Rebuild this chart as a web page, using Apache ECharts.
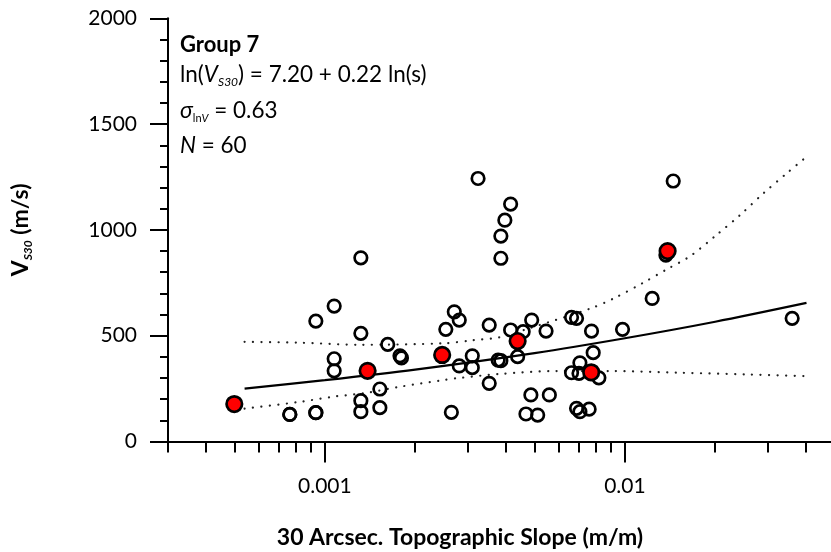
<!DOCTYPE html>
<html>
<head>
<meta charset="utf-8">
<script src="https://cdn.jsdelivr.net/npm/echarts@6/dist/echarts.min.js"></script>
<style>
html,body{margin:0;padding:0;background:#fff;}
#chart{width:831px;height:552px;}
</style>
</head>
<body>
<div id="chart"></div>
<script>
// ---- data ----
const slopeOpen = [0.000764,0.000764,0.000933,0.000933,0.000933,0.001074,0.001074,0.001074,0.001318,0.001318,
  0.001318,0.001318,0.001525,0.001525,0.00162,0.00178,0.0018,0.00253,0.0027,0.002805,
  0.002805,0.00264,0.0031,0.0031,0.00353,0.00353,0.00324,0.00378,0.00386,0.00386,
  0.00386,0.00398,0.00416,0.00416,0.00458,0.00439,0.00489,0.00546,0.00486,0.0056,
  0.00468,0.00512,0.00664,0.0069,0.00664,0.00703,0.00708,0.0069,0.00708,0.0076,
  0.00774,0.00784,0.00819,0.00982,0.01233,0.0137,0.01449,0.0361];
const vs30Open = [128,128,136,136,569,640,391,334,868,511,
  193,141,248,160,459,405,395,530,613,574,
  357,138,405,349,275,550,1243,385,382,866,
  971,1046,1122,527,519,401,574,522,220,220,
  130,125,587,582,325,322,372,157,141,153,
  522,420,301,530,676,881,1231,582];
const slopeRed = [0.000499,0.001388,0.00246,0.00439,0.00772,0.01388];
const vs30Red = [177,334,409,475,327,900];
const fitSlope = [0.00054,0.001,0.002,0.005,0.01,0.02,0.0403];
const fitV = [250,290,340,418,488,566,655];
const upSlope = [0.00054,0.00083,0.0013,0.0025,0.0031,0.0038,0.0048,0.0077,0.0092,0.0115,0.0138,0.0165,0.0202,0.0242,0.0289,0.0346,0.0401];
const upV = [471,467,457,464,478,492,535,629,677,750,814,876,976,1070,1172,1267,1343];
const loSlope = [0.00054,0.00083,0.00107,0.00135,0.00178,0.00248,0.00275,0.00383,0.0059,0.0089,0.0153,0.0254,0.0403];
const loV = [155,188,212,228,259,290,299,319,333,333,325,317,309];
const xMajorTicks = [0.001,0.01];
const xMinorTicks = [0.0003,0.0004,0.0005,0.0006,0.0007,0.0008,0.0009,0.002,0.003,0.004,0.005,0.006,0.007,0.008,0.009,0.02,0.03,0.04,0.05];

const zip = (a,b) => a.map((v,i)=>[v,b[i]]);
const FONT = 'Lato';
const chart = echarts.init(document.getElementById('chart'), null, {renderer:'canvas'});
const axisLineStyle = {color:'#000', width:2};
chart.setOption({
  animation:false,
  backgroundColor:'#fff',
  grid:{left:168, top:18.3, width:666.6, height:423.2, containLabel:false, outerBoundsMode:'none'},
  xAxis:[{
    type:'log', logBase:10, min:0.0003, max:0.05,
    axisLine:{show:true, lineStyle:axisLineStyle},
    axisTick:{show:true, length:21, lineStyle:axisLineStyle, customValues:xMajorTicks},
    axisLabel:{show:true, margin:34, color:'#000', fontFamily:FONT, fontSize:21,
      showMinLabel:false, showMaxLabel:false, formatter:v=>String(v)},
    splitLine:{show:false}
  },{
    type:'log', logBase:10, min:0.0003, max:0.05, gridIndex:0, position:'bottom',
    axisLine:{show:false},
    axisTick:{show:true, length:11, lineStyle:axisLineStyle, customValues:xMinorTicks},
    axisLabel:{show:false},
    splitLine:{show:false}
  }],
  yAxis:{
    type:'value', min:0, max:2000, interval:500,
    axisLine:{show:true, lineStyle:axisLineStyle},
    axisTick:{show:true, length:18, lineStyle:axisLineStyle},
    minorTick:{show:true, splitNumber:5, length:8, lineStyle:axisLineStyle},
    axisLabel:{margin:31, color:'#000', fontFamily:FONT, fontSize:21, formatter:v=>String(v)},
    splitLine:{show:false}, minorSplitLine:{show:false},
    name:'{v|V}{s|S30}{v| (m/s)}', nameLocation:'middle', nameGap:134,
    nameTextStyle:{rich:{
      v:{fontFamily:FONT, fontWeight:'bold', fontSize:23, color:'#000', lineHeight:27, verticalAlign:'middle'},
      s:{fontFamily:FONT, fontWeight:'bold', fontStyle:'italic', fontSize:12, color:'#000', lineHeight:12, verticalAlign:'bottom'}
    }}
  },
  graphic:[
    {type:'text', left:180, top:34, style:{text:'Group 7', font:'bold 22px Lato', fill:'#000'}},
    {type:'text', left:180, top:63, style:{
      text:'{n|ln(}{i|V}{s|S30}{n|) = 7.20 + 0.22 ln(s)}',
      rich:{
        n:{fontFamily:FONT, fontSize:22.5, color:'#000', lineHeight:27, verticalAlign:'middle'},
        i:{fontFamily:FONT, fontSize:22.5, fontStyle:'italic', color:'#000', lineHeight:27, verticalAlign:'middle'},
        s:{fontFamily:FONT, fontSize:12, fontStyle:'italic', color:'#000', lineHeight:12, verticalAlign:'bottom'}
      }}},
    {type:'text', left:180, top:99, style:{
      text:'{i|σ}{s|ln}{si|V}{n| = 0.63}',
      rich:{
        n:{fontFamily:FONT, fontSize:22.5, color:'#000', lineHeight:27, verticalAlign:'middle'},
        i:{fontFamily:FONT, fontSize:23, fontStyle:'italic', color:'#000', lineHeight:27, verticalAlign:'middle'},
        s:{fontFamily:FONT, fontSize:11, color:'#000', lineHeight:11, verticalAlign:'bottom'},
        si:{fontFamily:FONT, fontSize:11, fontStyle:'italic', color:'#000', lineHeight:11, verticalAlign:'bottom'}
      }}},
    {type:'text', left:180, top:134, style:{
      text:'{i|N}{n| = 60}',
      rich:{
        n:{fontFamily:FONT, fontSize:22.5, color:'#000', lineHeight:27, verticalAlign:'middle'},
        i:{fontFamily:FONT, fontSize:22.5, fontStyle:'italic', color:'#000', lineHeight:27, verticalAlign:'middle'}
      }}},
    {type:'text', x:460, y:538, style:{text:'30 Arcsec. Topographic Slope (m/m)', font:'bold 23px Lato', fill:'#000', align:'center', verticalAlign:'middle'}}
  ],
  series:[
    {type:'line', data:zip(upSlope,upV), smooth:0.3, showSymbol:false, silent:true, z:2,
      lineStyle:{color:'#222', width:2.2, type:[0.1,8.4], cap:'round'}},
    {type:'line', data:zip(loSlope,loV), smooth:0.3, showSymbol:false, silent:true, z:2,
      lineStyle:{color:'#222', width:2.2, type:[0.1,8.4], cap:'round'}},
    {type:'line', data:zip(fitSlope,fitV), smooth:0.3, showSymbol:false, silent:true, z:2,
      lineStyle:{color:'#000', width:2.2}},
    {type:'scatter', data:zip(slopeOpen,vs30Open), symbol:'circle', symbolSize:12.5, z:3,
      itemStyle:{color:'rgba(255,255,255,0)', borderColor:'#000', borderWidth:2.7, opacity:1}},
    {type:'scatter', data:zip(slopeRed,vs30Red), symbol:'circle', symbolSize:15.5, z:4,
      itemStyle:{color:'#ff0000', borderColor:'#000', borderWidth:2.7, opacity:1}}
  ]
});
</script>
</body>
</html>
